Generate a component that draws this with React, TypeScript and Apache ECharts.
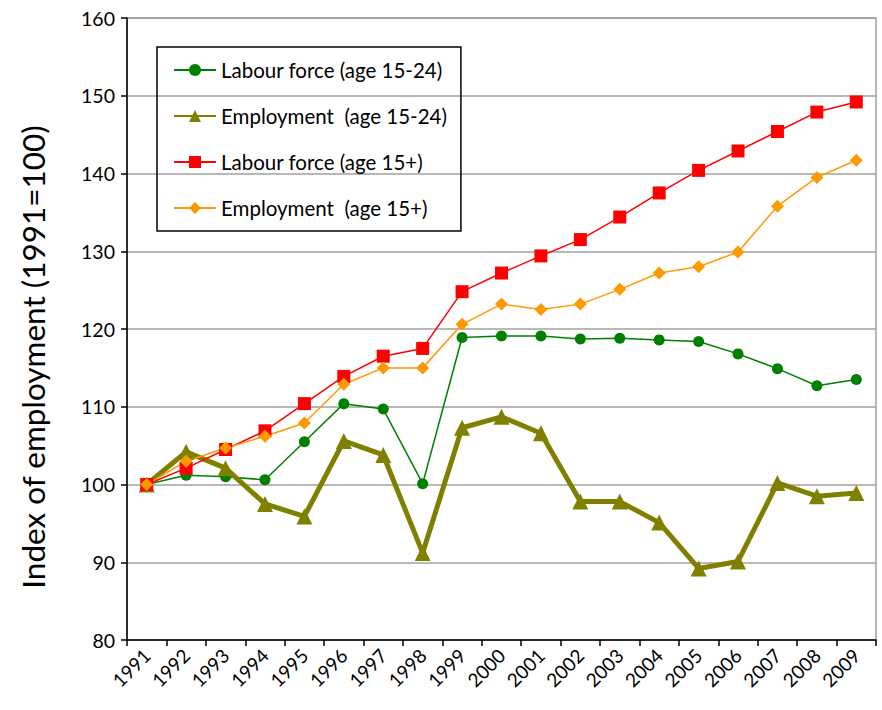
import React, { useEffect, useRef } from "react";
import * as echarts from "echarts";

const years = ["1991","1992","1993","1994","1995","1996","1997","1998","1999","2000","2001","2002","2003","2004","2005","2006","2007","2008","2009"];
const labourYouth = [100, 101.2, 101.0, 100.6, 105.5, 110.4, 109.7, 100.1, 118.9, 119.1, 119.1, 118.7, 118.8, 118.6, 118.4, 116.8, 114.9, 112.7, 113.5];
const employYouth = [100, 104.2, 102.1, 97.5, 95.9, 105.6, 103.8, 91.2, 107.3, 108.7, 106.6, 97.8, 97.8, 95.1, 89.2, 90.1, 100.2, 98.5, 98.9];
const labourAll = [100, 102.1, 104.5, 106.9, 110.4, 113.9, 116.5, 117.5, 124.8, 127.2, 129.4, 131.5, 134.4, 137.5, 140.4, 142.9, 145.4, 147.9, 149.2];
const employAll = [100, 103.0, 104.7, 106.2, 107.9, 112.9, 115.0, 115.0, 120.6, 123.2, 122.5, 123.2, 125.1, 127.2, 128.0, 129.9, 135.8, 139.5, 141.7];

const FONT = "Lato, 'Noto Sans', sans-serif";

export default function App() {
  const ref = useRef<HTMLDivElement>(null);
  useEffect(() => {
    if (!ref.current) return;
    const chart = echarts.init(ref.current, null, { renderer: "svg" });
    chart.setOption({
      animation: false,
      backgroundColor: "#fff",
      textStyle: { fontFamily: FONT },
      grid: {
        left: 127, right: 6, top: 18, bottom: 70,
        show: true, borderColor: "#A0A0A0", borderWidth: 1.5,
      },
      legend: {
        orient: "vertical",
        left: 157, top: 47,
        padding: [12, 14, 12, 16],
        borderColor: "#000", borderWidth: 1.5,
        itemWidth: 42, itemHeight: 15, itemGap: 24,
        textStyle: { fontFamily: FONT, fontSize: 20.5, lineHeight: 22, color: "#000" },
        data: ["Labour force (age 15-24)", "Employment  (age 15-24)", "Labour force (age 15+)", "Employment  (age 15+)"],
      },
      xAxis: {
        type: "category",
        data: years,
        boundaryGap: true,
        axisLine: { lineStyle: { color: "#000", width: 1.5 } },
        axisTick: { show: true, length: 6, lineStyle: { color: "#000", width: 1.5 } },
        axisLabel: { rotate: 45, fontSize: 19, color: "#000", margin: 12, interval: 0, fontFamily: FONT },
        splitLine: { show: false },
      },
      yAxis: {
        type: "value",
        min: 80, max: 160, interval: 10,
        name: "Index of employment (1991=100)",
        nameLocation: "middle",
        nameGap: 78,
        nameTextStyle: { fontSize: 31.5, color: "#000", fontFamily: FONT, padding: [0, 56, 0, 0] },
        axisLine: { show: true, lineStyle: { color: "#000", width: 1.5 } },
        axisTick: { show: true, length: 6, lineStyle: { color: "#000", width: 1.5 } },
        axisLabel: { fontSize: 19.5, color: "#000", margin: 12, fontFamily: FONT },
        splitLine: { show: true, lineStyle: { color: "#A0A0A0", width: 1.5 } },
      },
      series: [
        {
          name: "Labour force (age 15-24)", type: "line", data: labourYouth,
          symbol: "circle", symbolSize: 11,
          lineStyle: { color: "#008000", width: 1.5 },
          itemStyle: { color: "#008000" },
        },
        {
          name: "Employment  (age 15-24)", type: "line", data: employYouth,
          symbol: "triangle", symbolSize: 16,
          lineStyle: { color: "#808000", width: 5 },
          itemStyle: { color: "#808000" },
        },
        {
          name: "Labour force (age 15+)", type: "line", data: labourAll,
          symbol: "rect", symbolSize: 13,
          lineStyle: { color: "#FF0000", width: 1.5 },
          itemStyle: { color: "#FF0000" },
        },
        {
          name: "Employment  (age 15+)", type: "line", data: employAll,
          symbol: "diamond", symbolSize: 13,
          lineStyle: { color: "#FF9900", width: 1.5 },
          itemStyle: { color: "#FF9900" },
        },
      ],
    });
    return () => chart.dispose();
  }, []);
  return <div ref={ref} style={{ width: 882, height: 710, position: "absolute", left: 0, top: 0 }} />;
}
